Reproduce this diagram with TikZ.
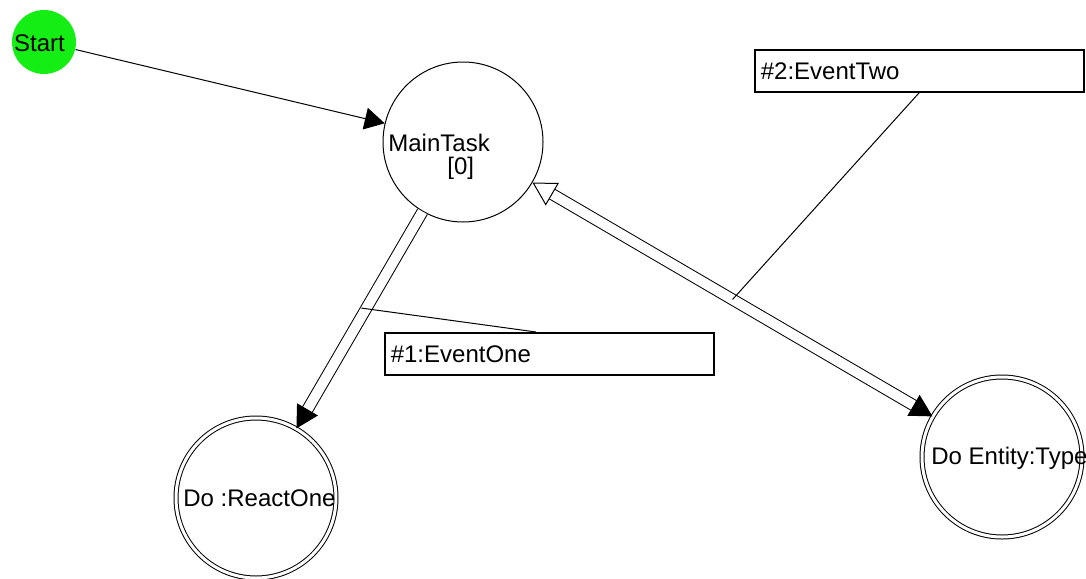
\documentclass[tikz,border=0pt]{standalone}
\usepackage{fontspec}
\setmainfont{Liberation Sans}
\usepackage{tikz}
\usetikzlibrary{calc, arrows.meta}
\definecolor{startgreen}{HTML}{14EE14}
\tikzset{>={Triangle[length=10pt,width=11pt]}}

\begin{document}
\begin{tikzpicture}[x=0.5pt,y=-0.5pt,
	state/.style={circle,draw,line width=0.5pt,minimum size=80pt,inner sep=0pt},
	final/.style={state,double,double distance=1.5pt},
	lbl/.style={inner sep=0pt,anchor=west,font=\fontsize{12}{14}\selectfont},
	evbox/.style={draw,line width=0.8pt,anchor=north west,text width=158.5pt,
		minimum height=21pt,inner xsep=3pt,align=left,font=\fontsize{12}{14}\selectfont},
	flow/.style={line width=0.5pt,double,double distance=5pt}]
	\useasboundingbox (0,0) rectangle (1086,578);
	\node[state,fill=startgreen,draw=none,minimum size=32pt] (start) at (44,42) {};
	\node[lbl,anchor=center] (starttxt) at (39.5,43) {Start};
	\node[state] (main) at (463,142) {};
	\node[lbl] (maintxt) at (388,143) {MainTask};
	\node[lbl] (zero) at (447,168) {[0]};
	\node[final] (react) at (256,498) {};
	\node[lbl] (reacttxt) at (183,498) {Do :ReactOne};
	\node[final] (entity) at (1002,457) {};
	\node[lbl] (entitytxt) at (931,458) {Do Entity:Type};
	\node[evbox] (ev1) at (384,332) {\#1:EventOne};
	\node[evbox] (ev2) at (754,49) {\#2:EventTwo};

	\draw[->,line width=0.5pt] (start) -- (main);
	\draw[flow,-{Triangle[length=11pt,width=12pt,line width=0.5pt]}]
		(main) -- coordinate[pos=0.445] (m1) (react);
	\draw[flow,{Triangle[open,length=11.5pt,width=13pt,line width=0.5pt]}-{Triangle[length=11pt,width=12pt,line width=0.5pt]}]
		(main) -- coordinate[pos=0.5] (m2) (entity);
	\draw[line width=0.5pt] ($(ev1.north west)!0.46!(ev1.north east)$) -- ([xshift=-2.5pt]m1);
	\draw[line width=0.5pt] (ev2.south) -- (m2);
\end{tikzpicture}
\end{document}
